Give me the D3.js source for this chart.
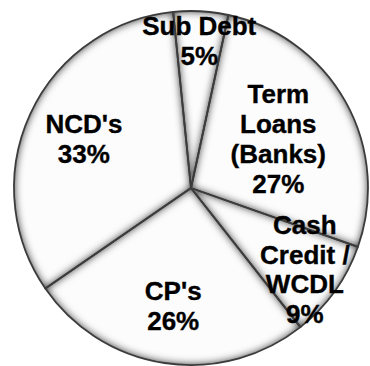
<!DOCTYPE html>
<html>
<head>
<meta charset="utf-8">
<script src="https://cdn.jsdelivr.net/npm/d3@7"></script>
<style>
  html, body { margin: 0; padding: 0; background: #fff; }
  svg { display: block; }
  .label { font-family: "Liberation Sans", Arial, sans-serif; font-weight: bold; font-size: 25px; fill: #000; stroke: #000; stroke-width: 0.35px; }
</style>
</head>
<body>
<svg id="chart" width="370" height="366"></svg>
<script>
// Borrowing mix by source of funds
const categories = ["Sub Debt", "Term Loans (Banks)", "Cash Credit / WCDL", "CP's", "NCD's"];
const shares = [5, 27, 9, 26, 33];
const labelLines = [["Sub Debt"], ["Term", "Loans", "(Banks)"], ["Cash", "Credit /", "WCDL"], ["CP's"], ["NCD's"]];

const width = 370, height = 366;
const cx = 191, cy = 188, radius = 177;
const start = -5.8 * Math.PI / 180;
// distance of each label block from the centre, in slice order
const labelRadius = [147, 100, 140, 119, 118];
const lineGap = 30;

const svg = d3.select("#chart");

// soft inner bevel along every slice edge
const defs = svg.append("defs");
const f = defs.append("filter").attr("id", "bevel")
  .attr("x", "-5%").attr("y", "-5%").attr("width", "110%").attr("height", "110%")
  .attr("color-interpolation-filters", "sRGB");
f.append("feGaussianBlur").attr("in", "SourceAlpha").attr("stdDeviation", 4).attr("result", "blur");
f.append("feComposite").attr("in", "SourceAlpha").attr("in2", "blur")
  .attr("operator", "arithmetic").attr("k2", 1.7).attr("k3", -1.7).attr("result", "edge");
f.append("feFlood").attr("flood-color", "#7a7a7a").attr("flood-opacity", 1);
f.append("feComposite").attr("in2", "edge").attr("operator", "in").attr("result", "shade");
const m = f.append("feMerge");
m.append("feMergeNode").attr("in", "SourceGraphic");
m.append("feMergeNode").attr("in", "shade");

const data = categories.map((c, i) => ({ category: c, value: shares[i], lines: labelLines[i] }));

const pie = d3.pie().sort(null).value(d => d.value)
  .startAngle(start).endAngle(start + 2 * Math.PI);
const arcs = pie(data);
const arc = d3.arc().innerRadius(0).outerRadius(radius);

const g = svg.append("g").attr("transform", `translate(${cx},${cy})`);

g.selectAll("path.slice").data(arcs).join("path")
  .attr("class", "slice")
  .attr("d", arc)
  .attr("fill", "#fcfcfc")
  .attr("filter", "url(#bevel)");

g.selectAll("path.edge").data(arcs).join("path")
  .attr("class", "edge")
  .attr("d", arc)
  .attr("fill", "none")
  .attr("stroke", "#3c3c3c")
  .attr("stroke-width", 1.8)
  .attr("stroke-linejoin", "round");

const labels = g.selectAll("g.lab").data(arcs).join("g")
  .attr("class", "lab")
  .attr("transform", (d, i) => {
    const r = labelRadius[i];
    const [x, y] = d3.arc().innerRadius(r).outerRadius(r).centroid(d);
    return `translate(${x},${y}) scale(1.04,1)`;
  });

labels.append("text")
  .attr("class", "label")
  .attr("text-anchor", "middle")
  .each(function (d) {
    const lines = d.data.lines.concat([d.data.value + "%"]);
    const n = lines.length;
    const first = -(n - 1) * lineGap / 2 + 9;
    const t = d3.select(this);
    lines.forEach((s, k) => {
      t.append("tspan").attr("x", 0).attr("y", first + k * lineGap).text(s);
    });
  });
</script>
</body>
</html>
